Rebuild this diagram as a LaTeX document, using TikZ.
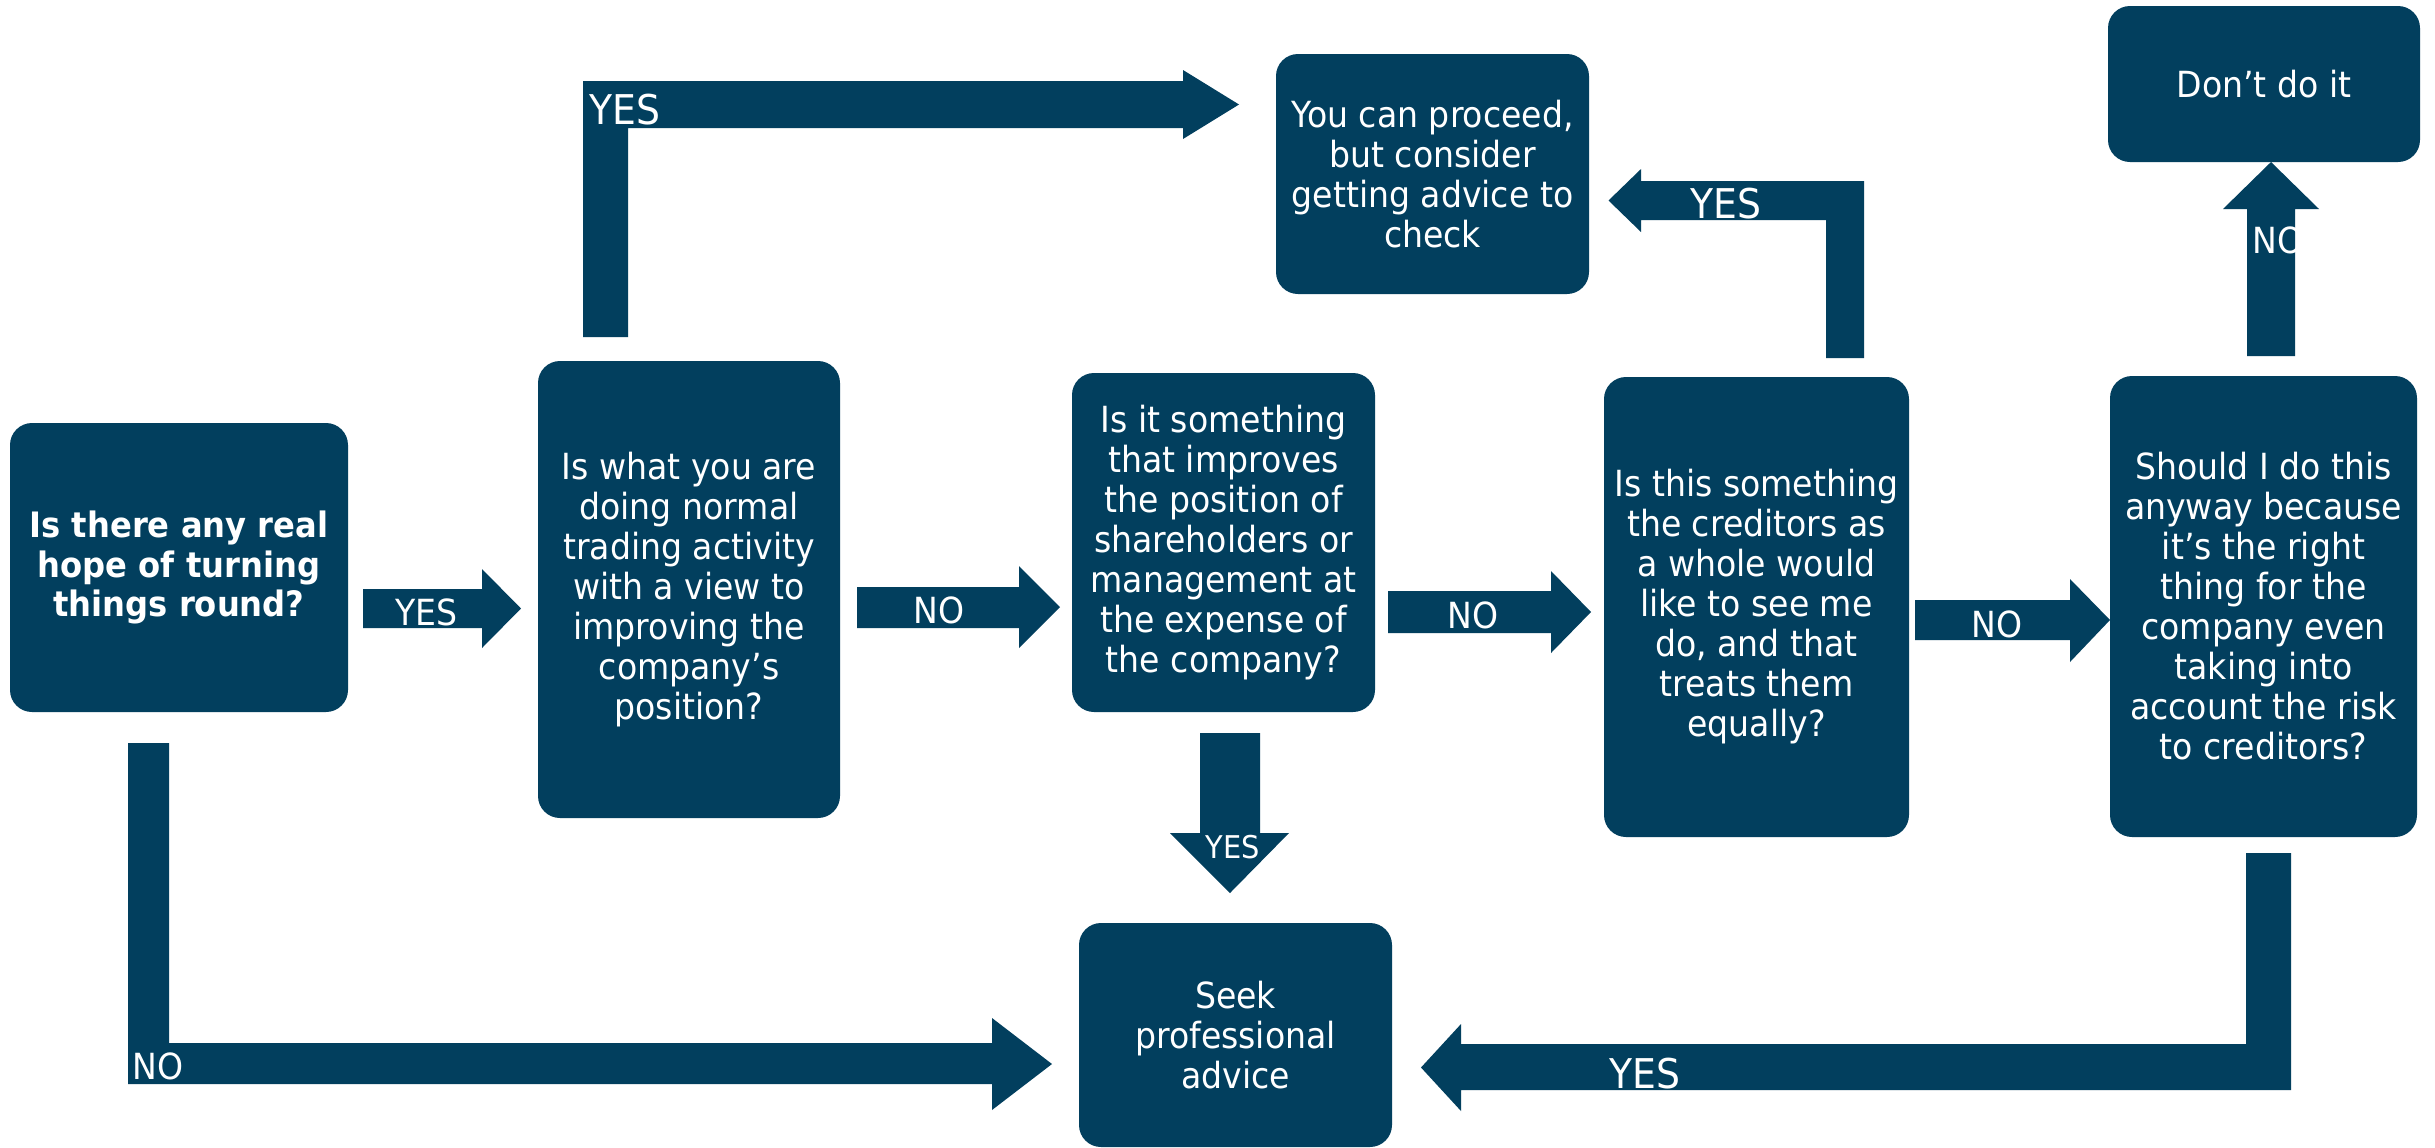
\documentclass[tikz,border=0pt]{standalone}
\usepackage{fontspec}
\setmainfont{DejaVu Sans}[FakeStretch=0.92]
\definecolor{navy}{RGB}{2,63,94}
\begin{document}
\begin{tikzpicture}[x=0.3pt,y=-0.3pt,
  box/.style={fill=navy, rounded corners=6.6pt, text=white, align=center, inner sep=0pt,
    font=\fontsize{10.8}{12}\selectfont},
  lab/.style={text=white, inner sep=0pt, anchor=base west, font=\fontsize{10.8}{12}\selectfont},
  biglab/.style={lab, font=\fontsize{12.3}{13}\selectfont},
  smalllab/.style={lab, font=\fontsize{9.4}{10}\selectfont},
  blk/.style={fill=navy}]
\fill[white] (0,0) rectangle (2435,1147);
\useasboundingbox (0,0) rectangle (2435,1147);

% boxes
\node[box, minimum width=101.4pt, minimum height=86.7pt, font=\bfseries\fontsize{10.5}{11.8}\selectfont] (b1) at (179,567.5)
  {Is there any real\\hope of turning\\things round?};
\node[box, minimum width=90.6pt, minimum height=137.1pt] (b2) at (689,589.5)
  {Is what you are\\doing normal\\trading activity\\with a view to\\improving the\\company’s\\position?};
\node[box, minimum width=90.9pt, minimum height=101.7pt] (b3) at (1223.5,542.5)
  {Is it something\\that improves\\the position of\\shareholders or\\management at\\the expense of\\the company?};
\node[box, minimum width=91.5pt, minimum height=138pt] (b4) at (1756.5,607)
  {Is this something\\the creditors as\\a whole would\\like to see me\\do, and that\\treats them\\equally?};
\node[box, minimum width=92.1pt, minimum height=138.3pt] (b5) at (2263.5,606.5)
  {Should I do this\\anyway because\\it’s the right\\thing for the\\company even\\taking into\\account the risk\\to creditors?};
\node[box, minimum width=93.9pt, minimum height=72pt] (b6) at (1432.5,174)
  {You can proceed,\\but consider\\getting advice to\\check};
\node[box, minimum width=93.6pt, minimum height=46.8pt] (b7) at (2264,84)
  {Don’t do it};
\node[box, minimum width=93.9pt, minimum height=67.2pt] (b8) at (1235.5,1035)
  {Seek\\professional\\advice};

% block arrows
\fill[blk] (363,589) -- (482,589) -- (482,569) -- (521,608.5) -- (482,648) -- (482,628) -- (363,628) -- cycle;
\fill[blk] (857,587) -- (1019,587) -- (1019,566) -- (1060,607) -- (1019,648) -- (1019,628) -- (857,628) -- cycle;
\fill[blk] (1388,591) -- (1551,591) -- (1551,571) -- (1591,612) -- (1551,653) -- (1551,633) -- (1388,633) -- cycle;
\fill[blk] (1915,600) -- (2070,600) -- (2070,579) -- (2110,620) -- (2070,662) -- (2070,640) -- (1915,640) -- cycle;
\fill[blk] (583,337) -- (583,81) -- (1183,81) -- (1183,70) -- (1239,104.5) -- (1183,139) -- (1183,128) -- (628,128) -- (628,337) -- cycle;
\fill[blk] (1864,358) -- (1864,181) -- (1641,181) -- (1641,169) -- (1608.5,200.5) -- (1641,232) -- (1641,220) -- (1826,220) -- (1826,358) -- cycle;
\fill[blk] (2247,356) -- (2247,209) -- (2223,209) -- (2271,162) -- (2319,209) -- (2295,209) -- (2295,356) -- cycle;
\fill[blk] (1200,733) -- (1260,733) -- (1260,833) -- (1289,833) -- (1230,893) -- (1170,833) -- (1200,833) -- cycle;
\fill[blk] (2246,853) -- (2291,853) -- (2291,1090) -- (1461,1090) -- (1461,1111) -- (1421,1067.5) -- (1461,1024) -- (1461,1044) -- (2246,1044) -- cycle;
\fill[blk] (128,743) -- (169,743) -- (169,1043) -- (992,1043) -- (992,1018) -- (1052,1064) -- (992,1110) -- (992,1084) -- (128,1084) -- cycle;

% labels
\node[lab] (l1) at (395,625.5) {YES};
\node[lab] (l2) at (913,623) {NO};
\node[lab] (l3) at (1447,628) {NO};
\node[lab] (l4) at (1971,637) {NO};
\node[biglab] (l5) at (589,124) {YES};
\node[biglab] (l6) at (1690,218) {YES};
\begin{scope}
\clip (2247,209) rectangle (2295,356);
\node[lab] (l7) at (2252,253) {NO};
\end{scope}
\node[smalllab] (l8) at (1205,858) {YES};
\node[biglab] (l9) at (1609,1088) {YES};
\node[lab] (l10) at (132,1079) {NO};
\end{tikzpicture}
\end{document}
